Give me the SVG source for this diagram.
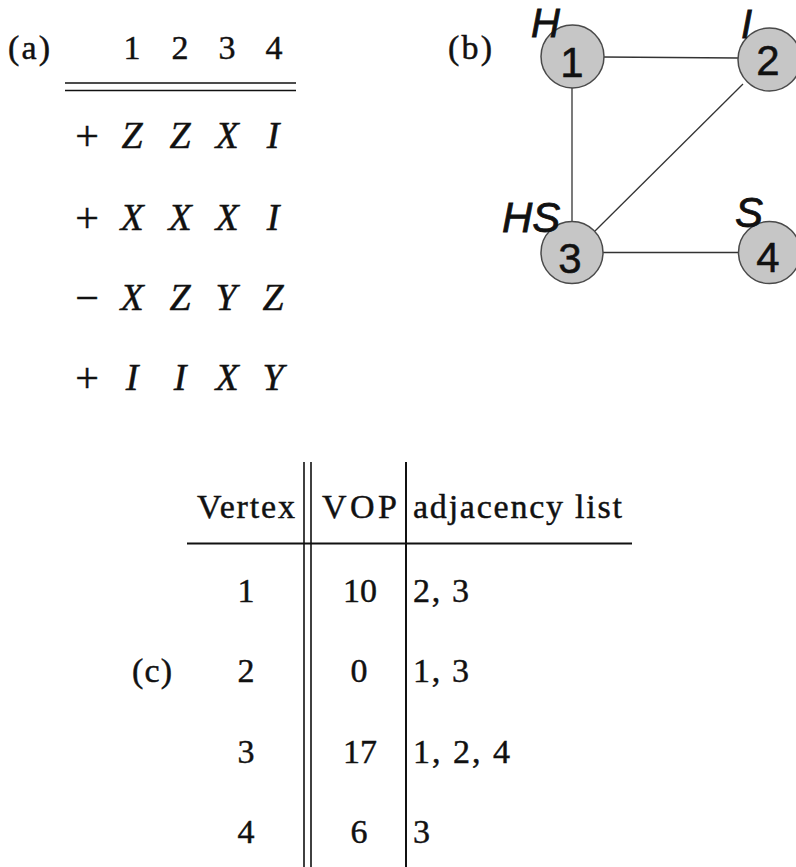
<svg xmlns="http://www.w3.org/2000/svg" width="796" height="867" viewBox="0 0 796 867">
  <style>
    .serif { font-family: "Liberation Serif", "Times New Roman", serif; font-size: 34px; fill: #111; stroke: #111; stroke-width: 0.45; }
    .it { font-family: "Liberation Serif", "Times New Roman", serif; font-style: italic; font-size: 38px; fill: #111; stroke: #111; stroke-width: 0.45; }
    .sign { font-size: 42px; }
    .mid { text-anchor: middle; }
    .rule { stroke: #111; stroke-width: 2; fill: none; }
    .thin { stroke: #111; stroke-width: 1.6; fill: none; }
    .edge { stroke: #333; stroke-width: 1.3; fill: none; }
    .node circle { fill: #c6c6c6; stroke: #4a4a4a; stroke-width: 1.5; }
    .num { font-family: "Liberation Sans", Arial, sans-serif; font-size: 42px; fill: #111; stroke: #111; stroke-width: 0.5; text-anchor: middle; }
    .lab { font-family: "Liberation Sans", Arial, sans-serif; font-style: italic; font-size: 42px; fill: #111; stroke: #111; stroke-width: 0.8; }
  </style>

  <!-- (a) stabilizer generators -->
  <g id="panel-a">
    <text class="serif" x="8" y="59" textLength="42">(a)</text>
    <g class="serif mid">
      <text x="132" y="59">1</text>
      <text x="180" y="59">2</text>
      <text x="227" y="59">3</text>
      <text x="274" y="59">4</text>
    </g>
    <line class="thin" x1="65" y1="83" x2="296" y2="83"/>
    <line class="thin" x1="65" y1="90.5" x2="296" y2="90.5"/>

    <g id="row1">
      <text class="serif sign mid" x="87" y="150">+</text>
      <g class="it mid">
        <text x="132" y="148">Z</text><text x="180" y="148">Z</text>
        <text x="227" y="148">X</text><text x="273" y="148">I</text>
      </g>
    </g>
    <g id="row2">
      <text class="serif sign mid" x="87" y="232">+</text>
      <g class="it mid">
        <text x="132" y="230">X</text><text x="180" y="230">X</text>
        <text x="227" y="230">X</text><text x="273" y="230">I</text>
      </g>
    </g>
    <g id="row3">
      <text class="serif sign mid" x="87" y="312">−</text>
      <g class="it mid">
        <text x="132" y="310">X</text><text x="180" y="310">Z</text>
        <text x="226" y="310">Y</text><text x="273" y="310">Z</text>
      </g>
    </g>
    <g id="row4">
      <text class="serif sign mid" x="87" y="392">+</text>
      <g class="it mid">
        <text x="132" y="390">I</text><text x="180" y="390">I</text>
        <text x="227" y="390">X</text><text x="273" y="390">Y</text>
      </g>
    </g>
  </g>

  <!-- (b) graph -->
  <text class="serif" x="448" y="59" textLength="44">(b)</text>

  <g id="edges">
    <line class="edge" x1="603" y1="57" x2="738" y2="58"/>
    <line class="edge" x1="572" y1="88" x2="572" y2="221"/>
    <line class="edge" x1="743" y1="84" x2="595" y2="231"/>
    <line class="edge" x1="603" y1="252.5" x2="738" y2="252.5"/>
  </g>

  <g id="v1" class="node">
    <circle cx="572.5" cy="56.5" r="31.5"/>
    <text class="num" x="572" y="77">1</text>
    <text class="lab" x="531" y="37" style="font-size:40px">H</text>
  </g>
  <g id="v2" class="node">
    <circle cx="769.5" cy="59.5" r="31.5"/>
    <text class="num" x="768" y="75">2</text>
    <text class="lab" x="741" y="38" style="font-size:40px">I</text>
  </g>
  <g id="v3" class="node">
    <circle cx="572" cy="252.5" r="31"/>
    <text class="num" x="570" y="273">3</text>
    <text class="lab" x="502" y="232">HS</text>
  </g>
  <g id="v4" class="node">
    <circle cx="769.5" cy="252.5" r="31"/>
    <text class="num" x="768" y="272">4</text>
    <text class="lab" x="735" y="227">S</text>
  </g>

  <!-- (c) vertex table -->
  <g id="panel-c">
    <text class="serif" x="132" y="682" textLength="40">(c)</text>
    <text class="serif" x="197" y="518" textLength="98">Vertex</text>
    <text class="serif" x="322" y="518" textLength="75">VOP</text>
    <text class="serif" x="413" y="518" textLength="209">adjacency list</text>

    <line class="rule" x1="187" y1="543.5" x2="632" y2="543.5"/>
    <line class="thin" x1="304" y1="462" x2="304" y2="867"/>
    <line class="thin" x1="311" y1="462" x2="311" y2="867"/>
    <line class="rule" x1="406" y1="462" x2="406" y2="867"/>

    <g class="serif mid">
      <text x="246" y="602">1</text>
      <text x="246" y="682">2</text>
      <text x="246" y="763">3</text>
      <text x="246" y="843">4</text>
      <text x="360" y="602">10</text>
      <text x="359" y="682">0</text>
      <text x="360" y="763">17</text>
      <text x="359" y="843">6</text>
    </g>
    <text class="serif" x="413" y="602" textLength="56">2, 3</text>
    <text class="serif" x="413" y="682" textLength="56">1, 3</text>
    <text class="serif" x="413" y="763" textLength="97">1, 2, 4</text>
    <text class="serif" x="413" y="843">3</text>
  </g>
</svg>
